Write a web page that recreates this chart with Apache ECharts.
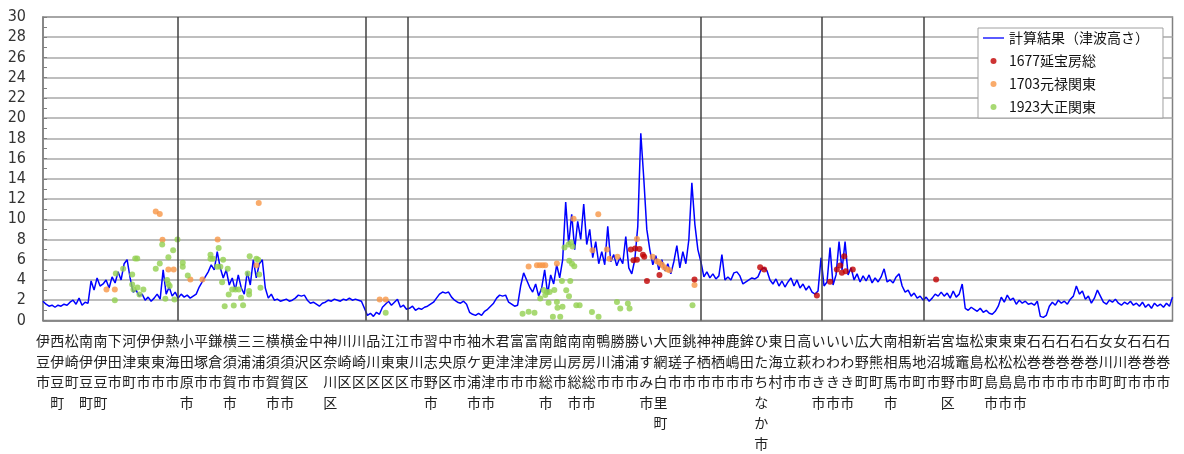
<!DOCTYPE html>
<html><head><meta charset="utf-8">
<script src="https://cdn.jsdelivr.net/npm/echarts@6/dist/echarts.min.js"></script>
<style>html,body{margin:0;padding:0;background:#fff}#c{width:1184px;height:454px}</style>
</head><body><div id="c"></div>
<script>
// Municipality labels along the coast (x categories)
const LABELS = ["伊豆市","西伊豆町","松崎町","南伊豆町","南伊豆町","下田市","河津町","伊東市","伊東市","熱海市",
"小田原市","平塚市","鎌倉市","横須賀市","三浦市","三浦市","横須賀市","横須賀市","金沢区","中区",
"神奈川区","川崎区","川崎区","品川区","江東区","江東区","市川市","習志野市","中央区","市原市",
"袖ケ浦市","木更津市","君津市","富津市","富津市","南房総市","館山市","南房総市","南房総市","鴨川市",
"勝浦市","勝浦市","いすみ市","大網白里町","匝瑳市","銚子市","神栖市","神栖市","鹿嶋市","鉾田市",
"ひたちなか市","東海村","日立市","高萩市","いわき市","いわき市","いわき市","広野町","大熊町","南相馬市",
"相馬市","新地町","岩沼市","宮城野区","塩竈市","松島町","東松島市","東松島市","東松島市","石巻市",
"石巻市","石巻市","石巻市","石巻市","女川町","女川町","石巻市","石巻市","石巻市"];

// Y tick values
const Y_MIN = 0, Y_MAX = 30, Y_STEP = 2;
// prefecture boundary positions (in label units)
const BOUNDARIES = [9.36, 22.5, 25.37, 45.82, 54.25, 61.3];

// Computed tsunami height (evenly sampled along the coast)
const LINE_VALUES = [
1.9,1.6,1.4,1.5,1.3,1.5,1.4,1.6,1.5,1.8,
2.0,1.6,2.2,1.5,1.8,1.7,3.9,3.0,4.2,3.4,
3.6,4.0,3.2,4.3,3.7,4.8,4.0,5.6,6.0,4.2,
2.8,3.0,2.4,2.6,2.0,2.3,1.9,2.2,2.6,2.1,
5.0,2.6,3.3,2.4,2.8,2.2,2.6,2.3,2.5,2.2,
2.4,2.6,3.3,3.8,4.3,4.8,5.5,5.0,6.8,5.2,
4.2,5.0,3.5,4.2,3.0,4.5,3.2,2.6,4.8,3.5,
6.0,4.2,5.6,6.0,3.2,2.2,2.6,2.0,2.1,1.9,
2.0,2.1,1.9,2.0,2.2,2.5,2.4,2.5,2.0,1.7,
1.8,1.6,1.4,1.7,1.8,2.0,1.9,2.1,2.0,1.9,
2.1,2.0,2.2,2.0,2.1,2.0,1.9,1.2,0.5,0.7,
0.4,0.8,0.6,1.3,1.6,1.9,1.5,1.8,2.1,1.3,
1.5,1.1,1.2,1.4,1.0,1.2,1.1,1.3,1.4,1.6,
1.8,2.2,2.6,2.8,2.7,2.8,2.3,2.0,1.8,1.7,
1.9,1.6,0.8,0.6,0.5,0.7,0.5,0.9,1.1,1.4,
1.7,2.2,2.5,2.4,2.5,1.8,1.6,1.4,1.5,3.4,
4.7,4.0,3.3,2.8,3.6,2.4,3.2,5.0,2.6,4.5,
3.6,5.5,4.2,6.0,11.7,7.5,10.5,7.0,9.8,8.0,
11.5,7.5,9.0,6.2,7.8,5.6,6.8,5.5,9.3,5.8,
6.5,5.4,6.2,5.6,8.3,5.2,4.6,6.0,9.3,18.5,
14.0,9.0,7.0,5.5,6.4,5.0,6.0,4.9,5.6,4.6,
5.8,7.4,5.2,6.8,5.6,8.0,13.6,9.5,7.0,5.8,
4.3,4.8,4.2,4.6,4.1,4.4,6.5,4.0,4.3,4.0,
4.7,4.8,4.4,3.6,3.8,4.0,4.2,4.1,4.3,5.0,
5.2,4.9,4.0,3.6,4.1,3.4,3.9,3.3,3.8,4.2,
3.4,4.0,3.2,3.6,3.0,3.4,2.8,2.6,2.9,6.2,
3.4,3.8,7.2,3.5,4.5,7.8,5.0,7.8,4.5,5.2,
4.0,4.6,3.8,4.4,3.9,4.5,3.7,4.2,3.8,4.3,
5.1,3.8,4.0,3.7,4.3,4.6,3.4,2.8,3.0,2.4,
2.7,2.2,2.4,2.0,2.3,1.9,2.2,2.6,2.4,2.8,
2.4,2.7,2.2,2.9,2.3,2.6,3.6,1.2,1.0,1.3,
1.1,0.9,1.2,0.8,1.0,0.7,0.6,0.9,1.4,2.3,
1.8,2.5,2.0,2.2,1.6,2.0,1.7,1.9,1.6,1.7,
1.5,1.9,0.4,0.3,0.5,1.4,1.8,1.5,2.0,1.7,
1.9,1.6,2.1,2.4,3.4,2.6,2.9,2.1,2.4,1.7,
2.2,3.0,2.4,1.8,1.6,2.0,1.8,2.1,1.7,1.5,
1.8,1.6,1.9,1.5,1.7,1.4,1.8,1.3,1.6,1.2,
1.7,1.4,1.6,1.3,1.7,1.4,2.3];

// Observed heights: [position (label units), height m]
const H1677 = [[40.93,7.0],[41.23,7.1],[41.53,7.07],[41.77,6.5],[41.11,5.95],[41.35,6.0],[41.86,6.3],
[42.05,3.9],[42.92,4.5],[45.36,4.05],[49.93,5.26],[50.21,5.03],[53.88,2.47],[54.8,3.82],[55.27,5.03],
[55.5,5.43],[55.62,4.7],[55.89,4.87],[55.78,6.35],[56.38,5.03],[62.18,4.05]];

const H1703 = [[4.42,3.06],[5.0,3.06],[7.85,10.76],[8.13,10.53],[8.32,7.97],[8.73,5.03],[9.1,5.03],
[10.26,4.05],[11.1,4.05],[12.16,8.0],[15.02,11.6],[14.86,5.46],[23.44,2.07],[23.86,2.07],
[33.81,5.33],[34.39,5.46],[34.59,5.46],[34.78,5.46],[34.97,5.46],[35.78,5.63],[36.94,10.04],
[38.66,10.5],[38.26,6.94],[39.26,7.0],[39.44,6.09],[40.0,6.29],[41.35,8.06],[42.44,6.29],
[42.74,5.86],[42.92,5.7],[43.09,5.5],[43.25,5.25],[43.44,5.05],[43.62,4.97],[45.36,3.49]];

const H1923 = [[5.0,2.0],[5.07,4.64],[5.58,5.1],[6.21,4.54],[6.21,3.55],[6.3,3.06],[6.58,3.26],[6.99,3.06],
[6.72,2.57],[6.42,6.12],[6.56,6.12],[7.85,5.1],[8.13,5.63],[8.3,7.5],[8.73,6.25],[9.06,6.94],[9.36,8.0],
[8.52,2.14],[8.64,4.0],[8.73,3.6],[8.82,3.4],[9.15,2.07],[9.73,5.7],[9.73,5.3],[10.08,4.44],
[11.66,6.5],[11.84,6.1],[11.66,6.1],[12.23,7.17],[12.54,6.0],[12.12,5.3],[12.35,5.3],[12.86,5.1],
[12.47,3.78],[12.93,2.57],[12.65,1.41],[13.28,1.48],[13.17,3.06],[13.4,3.06],[13.63,3.06],[13.79,2.24],
[13.93,1.51],[14.25,4.64],[14.39,6.35],[14.35,2.9],[14.35,2.57],[14.86,6.1],[14.98,6.0],[15.05,4.54],
[15.14,3.23],[23.86,0.76],[33.39,0.66],[33.81,0.86],[34.22,0.76],[34.62,2.17],[34.85,3.0],[35.09,2.8],
[35.27,2.8],[35.6,3.0],[34.97,2.5],[35.2,1.75],[35.78,1.81],[36.13,3.9],[36.71,3.9],[36.43,2.99],
[36.62,2.4],[36.31,7.2],[36.59,7.5],[36.76,7.7],[36.87,7.3],[36.64,5.9],[36.83,5.6],[36.99,5.35],
[35.5,0.36],[36.01,0.36],[35.82,1.25],[36.17,1.35],[37.13,1.51],[37.36,1.51],[38.22,0.82],[38.68,0.36],
[39.96,1.81],[40.19,1.18],[40.72,1.68],[40.84,1.18],[45.22,1.51]];

const SERIES_NAMES = ["計算結果（津波高さ）","1677延宝房総","1703元禄関東","1923大正関東"];

const chart = echarts.init(document.getElementById('c'), null, {renderer:'canvas'});
const cjk = '"Noto Sans CJK JP", sans-serif';
chart.setOption({
  animation:false,
  backgroundColor:'#fff',
  grid:{left:43, top:17, right:11.5, bottom:133, show:true, borderColor:'#808080', borderWidth:1.5, containLabel:false},
  legend:{
    orient:'vertical', left:978, top:28,
    backgroundColor:'#fff', borderColor:'#a0a0a0', borderWidth:1,
    padding:[2,14,3,5], itemGap:7, itemWidth:21, itemHeight:6,
    textStyle:{fontFamily:cjk, fontSize:14, color:'#111', lineHeight:16},
    data:[
      {name:SERIES_NAMES[0], icon:'path://M0,0H21V1.3H0Z'},
      {name:SERIES_NAMES[1], icon:'circle'},
      {name:SERIES_NAMES[2], icon:'circle'},
      {name:SERIES_NAMES[3], icon:'circle'}
    ]
  },
  xAxis:[{
    type:'value', min:0, max:78.64, interval:1,
    axisLine:{show:true, lineStyle:{color:'#808080', width:1.5}},
    axisTick:{show:false}, splitLine:{show:false},
    axisLabel:{
      show:true, margin:10, fontFamily:cjk, fontSize:14, lineHeight:20.6, color:'#222',
      verticalAlign:'top', showMinLabel:true, showMaxLabel:true,
      formatter:function(v){
        const r = Math.round(v);
        if (Math.abs(v-r) > 1e-6 || r < 0 || r >= LABELS.length) return '';
        return LABELS[r].split('').join('\n');
      }
    }
  },{
    type:'category', show:false, boundaryGap:false,
    data:LINE_VALUES.map(function(_, i){ return String(i); })
  }],
  yAxis:{
    type:'value', min:Y_MIN, max:Y_MAX, interval:Y_STEP,
    axisLine:{show:true, lineStyle:{color:'#808080', width:1.5}},
    axisTick:{show:true, inside:true, length:4, lineStyle:{color:'#808080'}},
    minorTick:{show:true, splitNumber:2, length:4, lineStyle:{color:'#808080'}},
    splitLine:{show:true, lineStyle:{color:'#a8a8a8', width:1.5}},
    axisLabel:{margin:17, fontFamily:'"Liberation Sans Narrow","DejaVu Sans Condensed",sans-serif', fontSize:16, color:'#333'}
  },
  series:[
    {name:SERIES_NAMES[0], type:'line', xAxisIndex:1, data:LINE_VALUES, symbol:'none', showSymbol:false,
     lineStyle:{color:'#0000ff', width:1.5}, itemStyle:{color:'#0000ff'}, z:2},
    {name:SERIES_NAMES[1], type:'scatter', data:H1677, symbolSize:6, itemStyle:{color:'#c00000'}, z:4,
     markLine:{silent:true, symbol:'none', label:{show:false},
       lineStyle:{color:'#404040', width:1.5, type:'solid'},
       data:BOUNDARIES.map(function(b){ return {xAxis:b}; })}},
    {name:SERIES_NAMES[2], type:'scatter', data:H1703, symbolSize:6, itemStyle:{color:'#f79646'}, z:3},
    {name:SERIES_NAMES[3], type:'scatter', data:H1923, symbolSize:6, itemStyle:{color:'#92d050'}, z:3}
  ]
});
</script></body></html>
